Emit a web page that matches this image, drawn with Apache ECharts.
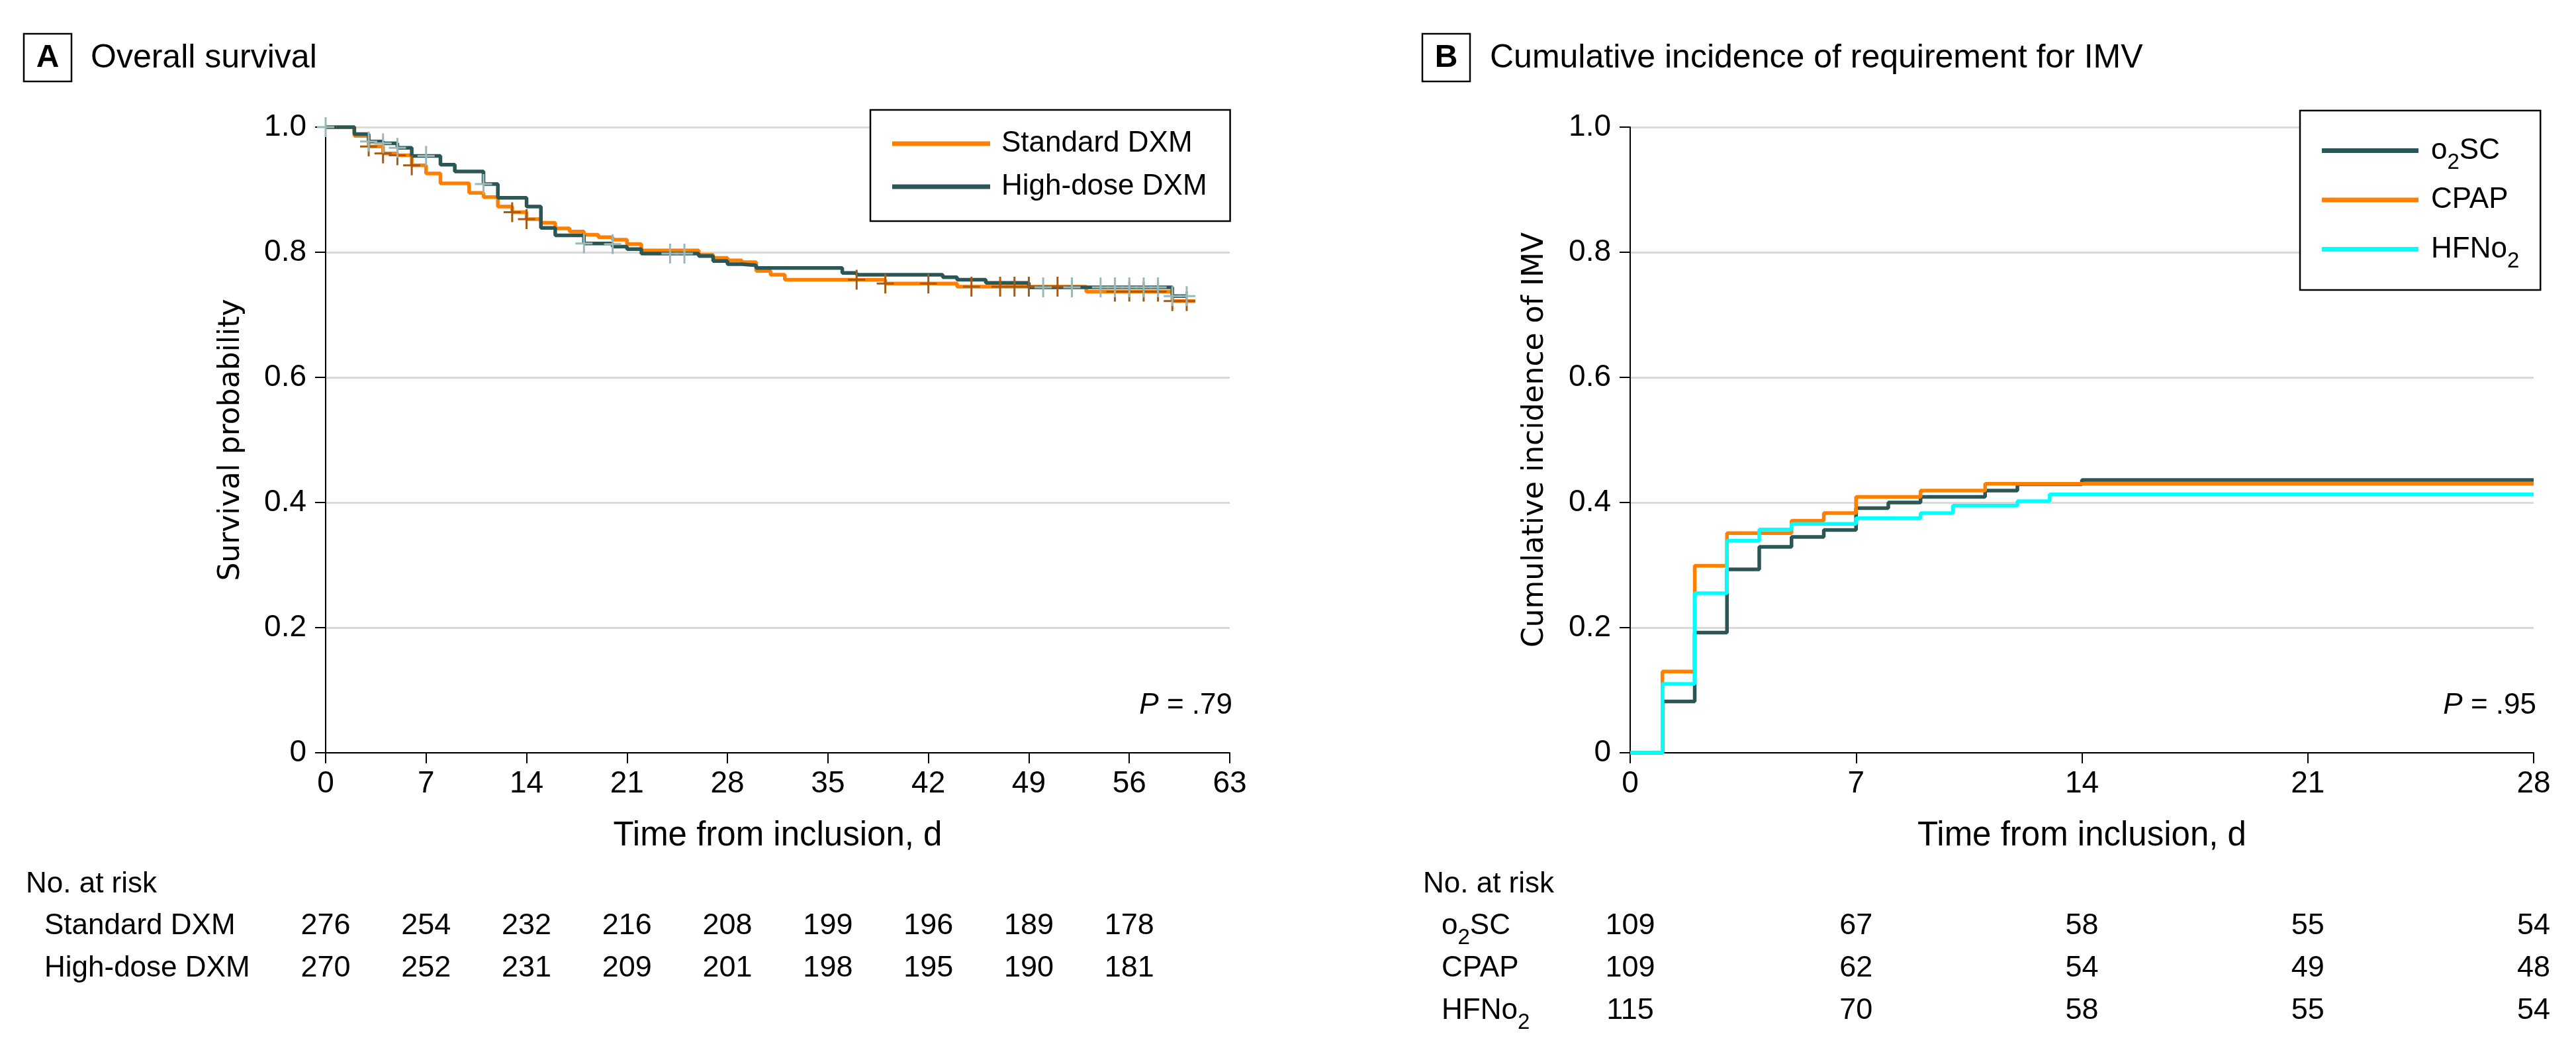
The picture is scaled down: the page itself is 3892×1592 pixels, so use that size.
<!DOCTYPE html>
<html>
<head>
<meta charset="utf-8">
<script src="https://cdn.jsdelivr.net/npm/echarts@6/dist/echarts.min.js"></script>
<style>html,body{margin:0;padding:0;background:#fff}#c{width:3892px;height:1592px}</style>
</head>
<body>
<div id="c"></div>
<script>
// ---------- DATA ----------
// Panel A: Kaplan-Meier overall survival, [day, survival]
const standardDXM = [[0,1.0],[2,0.986],[3,0.969],[4,0.958],[5,0.955],[6,0.939],[7,0.926],[8,0.910],[10,0.895],[11,0.888],[12,0.873],[13,0.864],[14,0.853],[15,0.847],[16,0.838],[17,0.833],[18,0.828],[19,0.824],[20,0.820],[21,0.813],[22,0.803],[26,0.796],[27,0.791],[28,0.787],[29,0.784],[30,0.770],[31,0.764],[32,0.756],[39,0.750],[44,0.745],[53,0.737],[59,0.722],[60.6,0.722]];
const highDoseDXM = [[0,1.0],[2,0.989],[3,0.977],[4,0.974],[5,0.967],[6,0.954],[8,0.940],[9,0.929],[11,0.909],[12,0.887],[14,0.873],[15,0.839],[16,0.827],[18,0.814],[20,0.809],[21,0.805],[22,0.798],[26,0.794],[27,0.786],[28,0.781],[29,0.779],[30,0.775],[36,0.767],[37,0.764],[43,0.760],[44,0.756],[46,0.751],[49,0.744],[59,0.730],[60,0.730]];
// censoring marks
const censorStandard = [[3,0.969],[4,0.958],[5,0.955],[6,0.939],[13,0.864],[14,0.853],[37,0.756],[39,0.750],[42,0.750],[45,0.745],[47,0.745],[48,0.745],[49,0.745],[51,0.745],[55,0.737],[56,0.737],[57,0.737],[58,0.737],[59,0.722],[60,0.722]];
const censorHighDose = [[0,1.0],[3,0.977],[4,0.974],[5,0.967],[7,0.954],[11,0.909],[18,0.814],[20,0.813],[24,0.798],[25,0.798],[50,0.744],[52,0.744],[54,0.744],[55,0.744],[56,0.744],[57,0.744],[58,0.744],[59,0.730],[60,0.730]];
// Panel B: cumulative incidence of IMV, [day, incidence]
const o2SC = [[0,0],[1,0.082],[2,0.192],[3,0.293],[4,0.329],[5,0.345],[6,0.356],[7,0.391],[8,0.400],[9,0.409],[11,0.419],[12,0.429],[14,0.436],[28,0.436]];
const cpap = [[0,0],[1,0.130],[2,0.299],[3,0.351],[5,0.371],[6,0.383],[7,0.409],[9,0.419],[11,0.430],[28,0.430]];
const hfno2 = [[0,0],[1,0.110],[2,0.255],[3,0.339],[4,0.357],[5,0.366],[7,0.375],[9,0.383],[10,0.395],[12,0.402],[13,0.413],[28,0.413]];
// Number at risk
const riskDaysA = [0,7,14,21,28,35,42,49,56];
const riskStandard = [276,254,232,216,208,199,196,189,178];
const riskHighDose = [270,252,231,209,201,198,195,190,181];
const riskDaysB = [0,7,14,21,28];
const riskO2SC = [109,67,58,55,54];
const riskCPAP = [109,62,54,49,48];
const riskHFNo2 = [115,70,58,55,54];
// labels
const groupsA = ['Standard DXM','High-dose DXM'];
const groupsB = ['o2SC','CPAP','HFNo2'];
const pValueA = '.79';
const pValueB = '.95';

// ---------- STYLE ----------
const F = '"Liberation Sans", Arial, sans-serif';
const FY = '"DejaVu Sans", sans-serif';
const C_ORANGE = '#ff8000', C_DARK = '#2b5655', C_CYAN = '#00ffff';
const C_BROWN = '#a65a14', C_GREYTEAL = '#9ab8b8';
const PLUS = 'path://M-1.5,-15L1.5,-15L1.5,15L-1.5,15Z M-13,-1.5L13,-1.5L13,1.5L-13,1.5Z';

const chart = echarts.init(document.getElementById('c'), null, {renderer:'canvas', devicePixelRatio:1});

function subName(v){
  if (v === 'o2SC') return '{n|o}{s|2}{n|SC}';
  if (v === 'HFNo2') return '{n|HFNo}{s|2}';
  return '{n|' + v + '}';
}
const subRich = {
  n: {fontSize:44, fontFamily:F, color:'#000', lineHeight:50, verticalAlign:'middle'},
  s: {fontSize:33, fontFamily:F, color:'#000', lineHeight:20, padding:[36,0,0,0], verticalAlign:'middle'}
};

function plotX(grid, max, name){
  return {
    gridIndex:grid, type:'value', min:0, max:max, interval:7,
    axisLine:{show:true, lineStyle:{color:'#000', width:2}},
    axisTick:{show:true, inside:false, length:16, lineStyle:{color:'#000', width:2}},
    axisLabel:{show:true, fontSize:46, fontFamily:F, color:'#000', margin:24, showMinLabel:true, showMaxLabel:true},
    splitLine:{show:false},
    name:name, nameLocation:'middle', nameGap:100,
    nameTextStyle:{fontSize:51, fontFamily:F, color:'#000'}
  };
}
function plotY(grid, name, gap){
  return {
    gridIndex:grid, type:'value', min:0, max:1, interval:0.2,
    axisLine:{show:true, onZero:false, lineStyle:{color:'#000', width:2}},
    axisTick:{show:true, length:16, lineStyle:{color:'#000', width:2}},
    axisLabel:{fontSize:46, fontFamily:F, color:'#000', margin:29,
      formatter: v => v === 0 ? '0' : v.toFixed(1)},
    splitLine:{show:true, lineStyle:{color:'#d9d9d9', width:3}},
    name:name, nameLocation:'middle', nameGap:gap,
    nameTextStyle:{fontSize:44, fontFamily:FY, color:'#000'}
  };
}
function step(name, data, color, xi, yi){
  return {name, type:'line', step:'end', xAxisIndex:xi, yAxisIndex:yi, data,
    symbol:'none', showSymbol:false, lineStyle:{color, width:5.5}, itemStyle:{color}, silent:true, z:3};
}
function censor(data, color, xi, yi){
  return {type:'scatter', xAxisIndex:xi, yAxisIndex:yi, data, symbol:PLUS,
    symbolSize:[26,30], itemStyle:{color, opacity:1}, silent:true, z:4};
}
function riskRow(days, counts, rowName, xi, yi){
  return {type:'scatter', xAxisIndex:xi, yAxisIndex:yi,
    data: days.map((d,i)=>[d, rowName, counts[i]]),
    symbolSize:0, itemStyle:{color:'#ffffff', opacity:1}, silent:true,
    label:{show:true, position:'inside', formatter:p=>String(p.value[2]),
      fontSize:45, fontFamily:F, color:'#000000', opacity:1, textBorderWidth:0}};
}
const legendIcon = 'rect';

const option = {
  backgroundColor:'#fff',
  animation:false,
  grid:[
    {left:492, top:192, width:1366, height:945},
    {left:2463, top:192, width:1365, height:945},
    {left:492, top:1367, width:1366, height:128},
    {left:2463, top:1367, width:1365, height:192}
  ],
  xAxis:[
    plotX(0, 63, 'Time from inclusion, d'),
    plotX(1, 28, 'Time from inclusion, d'),
    {gridIndex:2, type:'value', min:0, max:63, show:false},
    {gridIndex:3, type:'value', min:0, max:28, show:false}
  ],
  yAxis:[
    plotY(0, 'Survival probability', 120),
    plotY(1, 'Cumulative incidence of IMV', 121),
    {gridIndex:2, type:'category', data:groupsA, inverse:true,
      axisLine:{show:false}, axisTick:{show:false}, splitLine:{show:false},
      axisLabel:{align:'left', margin:425, fontSize:44, fontFamily:F, color:'#000'}},
    {gridIndex:3, type:'category', data:groupsB, inverse:true,
      axisLine:{show:false}, axisTick:{show:false}, splitLine:{show:false},
      axisLabel:{align:'left', margin:285, formatter:subName, rich:subRich}}
  ],
  legend:[
    {data:groupsA.map(n=>({name:n, icon:legendIcon})), orient:'vertical', left:1315, top:166, padding:[26,35,27,33],
      itemWidth:148, itemHeight:7, itemGap:15, borderColor:'#000', borderWidth:2.5,
      backgroundColor:'#fff', selectedMode:false,
      textStyle:{fontSize:44, fontFamily:F, color:'#000', lineHeight:50, padding:[0,0,0,12]}},
    {data:groupsB.map(n=>({name:n, icon:legendIcon})), orient:'vertical', left:3475, top:167, padding:[26,32,27,33],
      itemWidth:146, itemHeight:7, itemGap:15, borderColor:'#000', borderWidth:2.5,
      backgroundColor:'#fff', selectedMode:false,
      formatter:subName,
      textStyle:{fontSize:44, fontFamily:F, color:'#000', lineHeight:50, padding:[0,0,0,14], rich:subRich}}
  ],
  series:[
    step(groupsA[0], standardDXM, C_ORANGE, 0, 0),
    step(groupsA[1], highDoseDXM, C_DARK, 0, 0),
    censor(censorStandard, C_BROWN, 0, 0),
    censor(censorHighDose, C_GREYTEAL, 0, 0),
    step(groupsB[0], o2SC, C_DARK, 1, 1),
    step(groupsB[1], cpap, C_ORANGE, 1, 1),
    step(groupsB[2], hfno2, C_CYAN, 1, 1),
    riskRow(riskDaysA, riskStandard, groupsA[0], 2, 2),
    riskRow(riskDaysA, riskHighDose, groupsA[1], 2, 2),
    riskRow(riskDaysB, riskO2SC, groupsB[0], 3, 3),
    riskRow(riskDaysB, riskCPAP, groupsB[1], 3, 3),
    riskRow(riskDaysB, riskHFNo2, groupsB[2], 3, 3)
  ],
  graphic:[
    {type:'rect', shape:{x:36, y:51, width:72, height:72}, style:{fill:'#fff', stroke:'#000', lineWidth:2.5}},
    {type:'text', x:72, y:88, style:{text:'A', fontSize:48, fontWeight:'bold', fontFamily:F, fill:'#000', align:'center', verticalAlign:'middle'}},
    {type:'text', x:137, y:88, style:{text:'Overall survival', fontSize:50, fontFamily:F, fill:'#000', align:'left', verticalAlign:'middle'}},
    {type:'rect', shape:{x:2149, y:51, width:72, height:72}, style:{fill:'#fff', stroke:'#000', lineWidth:2.5}},
    {type:'text', x:2185, y:88, style:{text:'B', fontSize:48, fontWeight:'bold', fontFamily:F, fill:'#000', align:'center', verticalAlign:'middle'}},
    {type:'text', x:2251, y:88, style:{text:'Cumulative incidence of requirement for IMV', fontSize:50, fontFamily:F, fill:'#000', align:'left', verticalAlign:'middle'}},
    {type:'text', x:1862, y:1066, style:{text:'{i|P} = ' + pValueA, fontSize:44, fontFamily:F, fill:'#000', align:'right', verticalAlign:'middle',
      rich:{i:{fontStyle:'italic', fontSize:44, fontFamily:F, color:'#000'}}}},
    {type:'text', x:3832, y:1066, style:{text:'{i|P} = ' + pValueB, fontSize:44, fontFamily:F, fill:'#000', align:'right', verticalAlign:'middle',
      rich:{i:{fontStyle:'italic', fontSize:44, fontFamily:F, color:'#000'}}}},
    {type:'text', x:39, y:1336, style:{text:'No. at risk', fontSize:44, fontFamily:F, fill:'#000', align:'left', verticalAlign:'middle'}},
    {type:'text', x:2150, y:1336, style:{text:'No. at risk', fontSize:44, fontFamily:F, fill:'#000', align:'left', verticalAlign:'middle'}}
  ]
};
chart.setOption(option);
</script>
</body>
</html>
